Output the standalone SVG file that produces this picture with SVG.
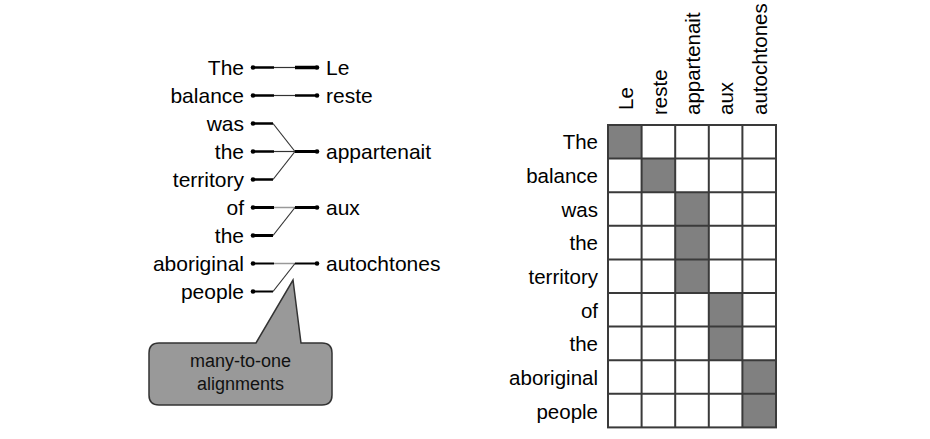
<svg xmlns="http://www.w3.org/2000/svg" width="930" height="439" viewBox="0 0 930 439">
<style>
.lbl{font-family:"Liberation Sans",Arial,sans-serif;font-size:21px;fill:#000}
.mx{font-size:20.5px}
.end{text-anchor:end}
.cal{font-family:"Liberation Sans",Arial,sans-serif;font-size:18px;fill:#111;text-anchor:middle}
.k{stroke:#000;fill:none;stroke-linecap:butt}
.thin{stroke:#333;stroke-width:1.2;fill:none}
.gray{stroke:#999;stroke-width:1.5;fill:none}
.dot{fill:#000}
.sh{fill:#808080}
.grid{stroke:#3a3a3a;stroke-width:2;fill:none}
</style>
<rect width="930" height="439" fill="#fff"/>
<g id="src-words">
<g id="src-The"><text class="lbl end" x="244" y="74.5">The</text></g>
<g id="src-balance"><text class="lbl end" x="244" y="102.5">balance</text></g>
<g id="src-was"><text class="lbl end" x="244" y="130.5">was</text></g>
<g id="src-the1"><text class="lbl end" x="244" y="158.5">the</text></g>
<g id="src-territory"><text class="lbl end" x="244" y="186.5">territory</text></g>
<g id="src-of"><text class="lbl end" x="244" y="214.5">of</text></g>
<g id="src-the2"><text class="lbl end" x="244" y="242.5">the</text></g>
<g id="src-aboriginal"><text class="lbl end" x="244" y="270.5">aboriginal</text></g>
<g id="src-people"><text class="lbl end" x="244" y="298.5">people</text></g>
</g>
<g id="tgt-words">
<g id="tgt-Le"><text class="lbl" x="326" y="74.5">Le</text></g>
<g id="tgt-reste"><text class="lbl" x="326" y="102.5">reste</text></g>
<g id="tgt-appartenait"><text class="lbl" x="326" y="158.5">appartenait</text></g>
<g id="tgt-aux"><text class="lbl" x="326" y="214.5">aux</text></g>
<g id="tgt-autochtones"><text class="lbl" x="326" y="270.5">autochtones</text></g>
</g>
<g id="connectors">
<path class="k" stroke-width="2.5" d="M253,67.5H274"/><path class="thin" d="M274,67.5H295"/><path class="k" stroke-width="3.5" d="M295,67.5H317"/>
<path class="k" stroke-width="2.5" d="M253,95.5H274"/><path class="thin" d="M274,95.5H295"/><path class="k" stroke-width="2.5" d="M295,95.5H317"/>
<path class="k" stroke-width="2.5" d="M253,123.5H273"/><path class="thin" d="M273,123.5L295,151.5"/>
<path class="k" stroke-width="2.5" d="M253,151.5H274"/><path class="thin" d="M274,151.5H295"/>
<path class="k" stroke-width="2.5" d="M253,179.5H273"/><path class="thin" d="M273,179.5L295,151.5"/>
<path class="k" stroke-width="3" d="M295,151.5H317"/>
<path class="k" stroke-width="3" d="M253,207.5H274"/><path class="gray" d="M274,207.5H295"/>
<path class="k" stroke-width="3" d="M253,235.5H273"/><path class="thin" d="M273,235.5L295,207.5"/>
<path class="k" stroke-width="3" d="M295,207.5H317"/>
<path class="k" stroke-width="2" d="M253,263.5H274"/><path class="gray" d="M274,263.5H295"/>
<path class="k" stroke-width="2" d="M253,291.5H273"/><path class="thin" d="M273,291.5L295,263.5"/>
<path class="k" stroke-width="2" d="M295,263.5H317"/>
<g class="dot">
<circle cx="253" cy="67.5" r="2.3"/><circle cx="253" cy="95.5" r="2.3"/><circle cx="253" cy="123.5" r="2.3"/><circle cx="253" cy="151.5" r="2.3"/><circle cx="253" cy="179.5" r="2.3"/><circle cx="253" cy="207.5" r="2.3"/><circle cx="253" cy="235.5" r="2.3"/><circle cx="253" cy="263.5" r="2.3"/><circle cx="253" cy="291.5" r="2.3"/>
<circle cx="317" cy="67.5" r="2.3"/><circle cx="317" cy="95.5" r="2.3"/><circle cx="317" cy="151.5" r="2.3"/><circle cx="317" cy="207.5" r="2.3"/><circle cx="317" cy="263.5" r="2.3"/>
</g>
</g>
<g id="callout">
<path d="M159,343H256L293,280L301,343H322Q332,343 332,353V395Q332,405 322,405H159Q149,405 149,395V353Q149,343 159,343Z" fill="#999" stroke="#333" stroke-width="1.5"/>
<text class="cal" x="240.5" y="367">many-to-one</text>
<text class="cal" x="240.5" y="390">alignments</text>
</g>
<g id="matrix">
<g id="col-labels">
<text class="lbl mx" transform="translate(632.5,110) rotate(-90)">Le</text>
<text class="lbl mx" transform="translate(666.5,115) rotate(-90)">reste</text>
<text class="lbl mx" transform="translate(700,115) rotate(-90)">appartenait</text>
<text class="lbl mx" transform="translate(733,115) rotate(-90)">aux</text>
<text class="lbl mx" transform="translate(767,115) rotate(-90)">autochtones</text>
</g>
<g id="row-labels">
<text class="lbl mx end" x="598" y="149">The</text>
<text class="lbl mx end" x="598" y="183">balance</text>
<text class="lbl mx end" x="598" y="216.5">was</text>
<text class="lbl mx end" x="598" y="250">the</text>
<text class="lbl mx end" x="598" y="284">territory</text>
<text class="lbl mx end" x="598" y="317.5">of</text>
<text class="lbl mx end" x="598" y="351">the</text>
<text class="lbl mx end" x="598" y="385">aboriginal</text>
<text class="lbl mx end" x="598" y="418.5">people</text>
</g>
<g id="cells">
<rect class="sh" x="608" y="125" width="33.6" height="33.6"/>
<rect class="sh" x="641.6" y="158.6" width="33.6" height="33.6"/>
<rect class="sh" x="675.2" y="192.2" width="33.6" height="100.8"/>
<rect class="sh" x="708.8" y="293" width="33.6" height="67.2"/>
<rect class="sh" x="742.4" y="360.2" width="33.6" height="67.2"/>
</g>
<g class="grid">
<rect x="608" y="125" width="168" height="302.4"/>
<path d="M641.6,125V427.4M675.2,125V427.4M708.8,125V427.4M742.4,125V427.4"/>
<path d="M608,158.6H776M608,192.2H776M608,225.8H776M608,259.4H776M608,293H776M608,326.6H776M608,360.2H776M608,393.8H776"/>
</g>
</g>
</svg>
